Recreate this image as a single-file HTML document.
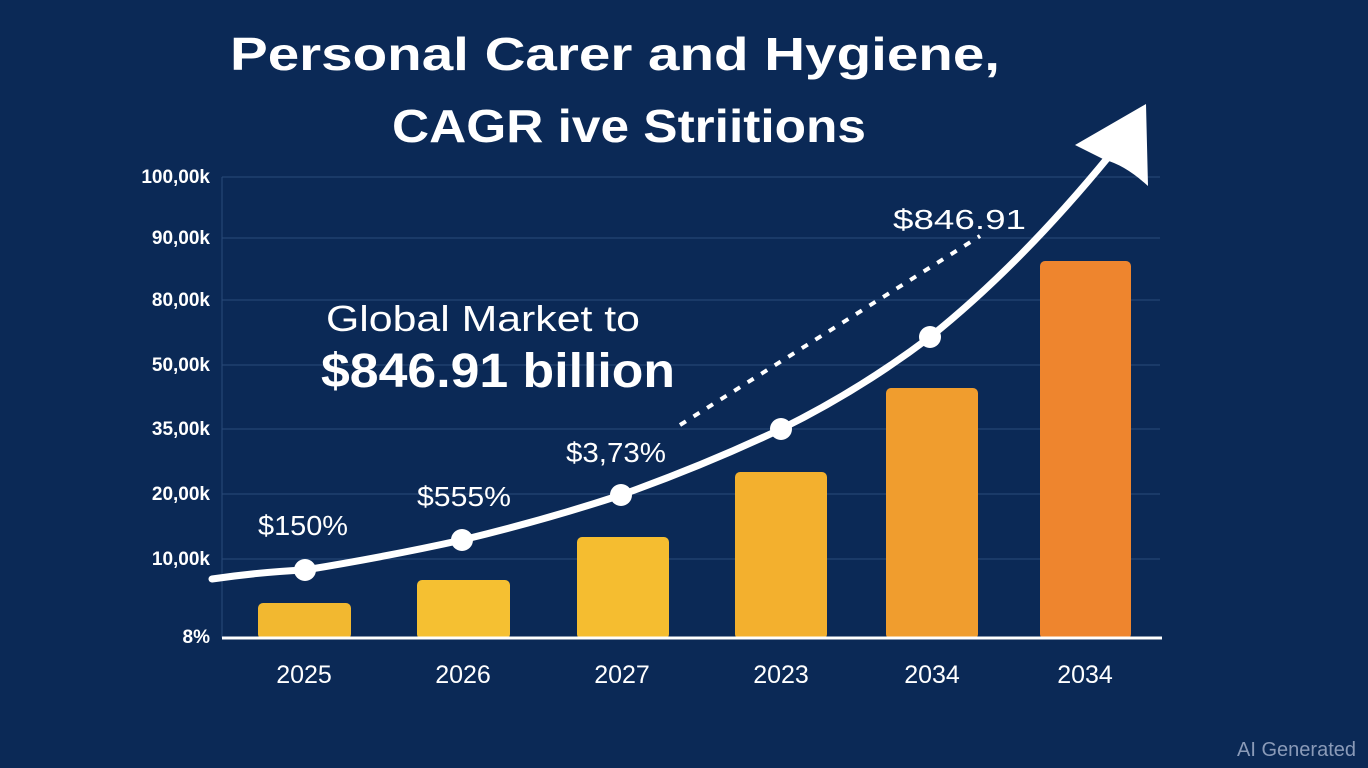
<!DOCTYPE html>
<html><head><meta charset="utf-8"><style>
html,body{margin:0;padding:0;background:#0c2a58;}
svg{display:block}
text{font-family:"Liberation Sans",sans-serif;fill:#fff}
</style></head><body>
<svg width="1368" height="768" viewBox="0 0 1368 768">
<rect width="1368" height="768" fill="#0b2956"/>
<text x="230" y="70" font-size="46" font-weight="bold" textLength="770" lengthAdjust="spacingAndGlyphs">Personal Carer and Hygiene,</text>
<text x="392" y="142" font-size="46" font-weight="bold" textLength="474" lengthAdjust="spacingAndGlyphs">CAGR ive Striitions</text>
<g stroke="#2a4a7a" stroke-width="1">
<line x1="222" y1="177" x2="1160" y2="177"/><line x1="222" y1="238" x2="1160" y2="238"/>
<line x1="222" y1="300" x2="1160" y2="300"/><line x1="222" y1="365" x2="1160" y2="365"/>
<line x1="222" y1="429" x2="1160" y2="429"/><line x1="222" y1="494" x2="1160" y2="494"/>
<line x1="222" y1="559" x2="1160" y2="559"/><line x1="222" y1="177" x2="222" y2="638"/>
</g>
<g font-size="19" font-weight="bold" text-anchor="end">
<text x="210" y="183">100,00k</text><text x="210" y="244">90,00k</text><text x="210" y="306">80,00k</text>
<text x="210" y="371">50,00k</text><text x="210" y="435">35,00k</text><text x="210" y="500">20,00k</text>
<text x="210" y="565">10,00k</text><text x="210" y="643">8%</text>
</g>
<rect x="258" y="603" width="93" height="36" rx="5" fill="#f2b830"/>
<rect x="417" y="580" width="93" height="59" rx="5" fill="#f5c032"/>
<rect x="577" y="537" width="92" height="102" rx="5" fill="#f5bd30"/>
<rect x="735" y="472" width="92" height="167" rx="5" fill="#f3b02e"/>
<rect x="886" y="388" width="92" height="251" rx="5" fill="#f09d2e"/>
<rect x="1040" y="261" width="91" height="378" rx="5" fill="#ee852e"/>
<line x1="222" y1="638" x2="1162" y2="638" stroke="#fff" stroke-width="3"/>
<g font-size="25" text-anchor="middle">
<text x="304" y="683">2025</text><text x="463" y="683">2026</text><text x="622" y="683">2027</text>
<text x="781" y="683">2023</text><text x="932" y="683">2034</text><text x="1085" y="683">2034</text>
</g>
<line x1="680" y1="425" x2="980" y2="236" stroke="#fff" stroke-width="4" stroke-dasharray="7 9"/>
<path d="M212,579 Q260,572 305,570 Q390,556 462,540 Q545,520 621,495 Q705,465 781,429 Q860,390 930,337 Q1020,265 1110,155" fill="none" stroke="#fff" stroke-width="7" stroke-linecap="round"/>
<path d="M1075,145 L1146,104 L1148,186 Q1125,165 1105,160 Z" fill="#fff"/>
<g fill="#fff"><circle cx="305" cy="570" r="11"/><circle cx="462" cy="540" r="11"/><circle cx="621" cy="495" r="11"/><circle cx="781" cy="429" r="11"/><circle cx="930" cy="337" r="11"/></g>
<g font-size="28">
<text x="258" y="535" textLength="90" lengthAdjust="spacingAndGlyphs">$150%</text>
<text x="417" y="506" textLength="94" lengthAdjust="spacingAndGlyphs">$555%</text>
<text x="566" y="462" textLength="100" lengthAdjust="spacingAndGlyphs">$3,73%</text>
<text x="893" y="229" textLength="133" lengthAdjust="spacingAndGlyphs">$846.91</text>
</g>
<text x="326" y="331" font-size="36" textLength="314" lengthAdjust="spacingAndGlyphs">Global Market to</text>
<text x="321" y="387" font-size="48" font-weight="bold" textLength="354" lengthAdjust="spacingAndGlyphs">$846.91 billion</text>
<text x="1356" y="756" font-size="20" style="fill:#8a9ab8" text-anchor="end">AI Generated</text>
</svg>
</body></html>
